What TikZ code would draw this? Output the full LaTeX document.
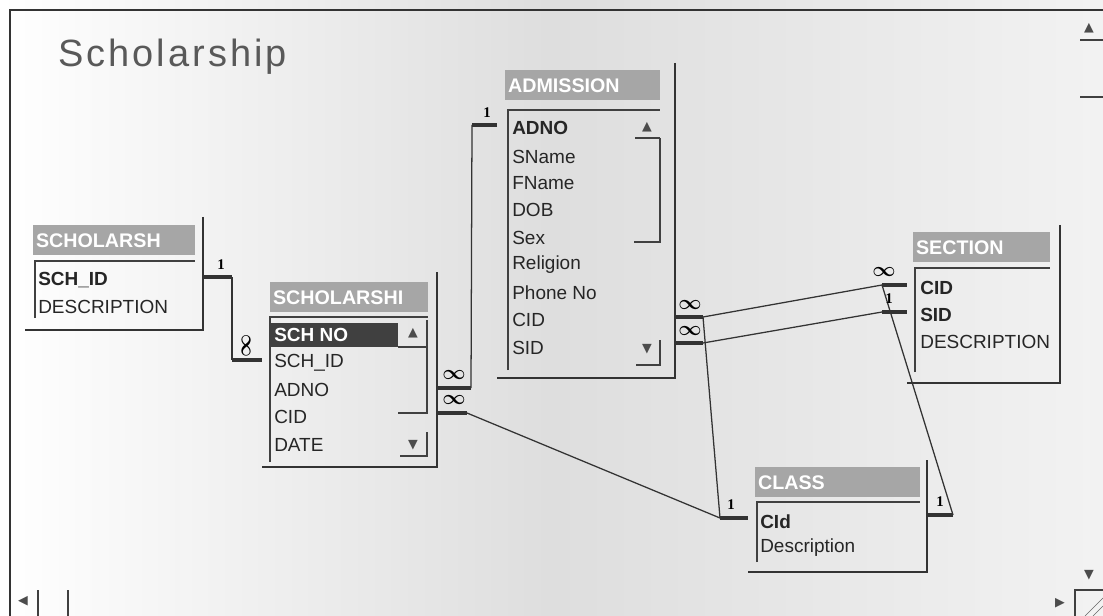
\documentclass[tikz,border=0pt]{standalone}
\usepackage{fontspec}
\setmainfont{Liberation Sans}
\newfontfamily\symfont{DejaVu Sans}
\newfontfamily\cardfont{Liberation Serif}
\newfontfamily\titlefont[LetterSpace=8]{Liberation Sans}
\usetikzlibrary{positioning}

\begin{document}
\begin{tikzpicture}[
  x=0.025cm, y=-0.025cm,
  font=\fontsize{13.5}{16}\selectfont,
  win/.style={inner sep=0pt, outer sep=0pt, anchor=north west},
  frame/.style={draw=black!80, line width=1.1pt},
  hdr/.style={fill=black!35, text=white, anchor=north west, align=left,
    inner xsep=2pt, inner ysep=0pt, minimum height=0.75cm,
    font=\fontsize{14}{16}\selectfont\bfseries},
  sunk/.style={draw=black!75, line width=0.9pt},
  field/.style={anchor=west, inner sep=0pt, text=black!85},
  pkey/.style={field, font=\fontsize{13.5}{16}\selectfont\bfseries},
  bar/.style={draw=black!80, line width=2.4pt},
  rel/.style={draw=black!80, line width=0.9pt},
  one/.style={font=\cardfont\fontsize{10.5}{11}\selectfont\bfseries, inner sep=0pt},
  many/.style={font=\fontsize{15}{15}\selectfont\boldmath, inner sep=0pt},
  arrowglyph/.style={font=\symfont\fontsize{9}{9}\selectfont, text=black!70, inner sep=0pt}]
\useasboundingbox (0,0) rectangle (1103,616);
\shade[left color=white, right color=black!5, middle color=black!13] (0,0) rectangle (1103,616);
\draw[frame] (10,616) -- (10,10) -- (1103,10);
\node[anchor=base west, inner sep=0pt, text=black!65,
  font=\titlefont\fontsize{27}{30}\selectfont] (title) at (58,67) {Scholarship};

% lookup table
\node[win, minimum width=4.45cm, minimum height=2.825cm] (lkp) at (25,217) {};
\draw[frame] (lkp.north east) |- (lkp.south west);
\node[hdr, text width=3.91cm] (lkp-hd) at (33,225) {SCHOLARSH};
\draw[sunk] (35,318) |- (195,261);
\node[pkey] (lkp-schid) at (38,280) {SCH\_ID};
\node[field] (lkp-desc) at (38,307) {DESCRIPTION};

% scholarship table
\node[win, minimum width=4.375cm, minimum height=4.875cm] (sch) at (262,272) {};
\draw[frame] (sch.north east) |- (sch.south west);
\node[hdr, text width=3.81cm] (sch-hd) at (270,282) {SCHOLARSHI};
\draw[sunk] (270,462) |- (428,317);
\fill[black!75] (271,323) rectangle (398,347);
\node[pkey, text=white] (sch-no) at (274,335) {SCH NO};
\node[field] (sch-id) at (274,363) {SCH\_ID};
\node[field] (sch-adno) at (274,390) {ADNO};
\node[field] (sch-cid) at (274,417) {CID};
\node[field] (sch-date) at (274,445) {DATE};
\draw[sunk] (398,347) -| (427,320);
\node[arrowglyph] (sch-up) at (413,333) {▲};
\draw[sunk] (398,413) -| (427,347);
\node[arrowglyph] (sch-dn) at (413,445) {▼};
\draw[sunk] (400,456) -| (427,432);

% admission table
\node[win, minimum width=4.45cm, minimum height=7.875cm] (adm) at (497,63) {};
\draw[frame] (adm.north east) |- (adm.south west);
\node[hdr, text width=3.735cm] (adm-hd) at (505,70) {ADMISSION};
\draw[sunk] (508,370) |- (660,110);
\node[pkey] (adm-adno) at (512,128) {ADNO};
\node[field] (adm-sname) at (512,157) {SName};
\node[field] (adm-fname) at (512,183) {FName};
\node[field] (adm-dob) at (512,210) {DOB};
\node[field] (adm-sex) at (512,238) {Sex};
\node[field] (adm-rel) at (512,265) {Religion};
\node[field] (adm-phone) at (512,293) {Phone No};
\node[field] (adm-cid) at (512,320) {CID};
\node[field] (adm-sid) at (512,348) {SID};
\node[arrowglyph] (adm-up) at (647,127) {▲};
\draw[sunk] (635,138) -- (660,138);
\draw[sunk] (634,242) -| (660,138);
\node[arrowglyph] (adm-dn) at (647,349) {▼};
\draw[sunk] (636,365) -| (660,340);

% section table
\node[win, minimum width=3.825cm, minimum height=3.95cm] (sec) at (907,225) {};
\draw[frame] (sec.north east) |- (sec.south west);
\node[hdr, text width=3.285cm] (sec-hd) at (913,232) {SECTION};
\draw[sunk] (915,372) |- (1050,268);
\node[pkey] (sec-cid) at (920,288) {CID};
\node[pkey] (sec-sid) at (920,315) {SID};
\node[field] (sec-desc) at (920,342) {DESCRIPTION};

% class table
\node[win, minimum width=4.475cm, minimum height=2.8cm] (cls) at (748,460) {};
\draw[frame] (cls.north east) |- (cls.south west);
\node[hdr, text width=3.985cm] (cls-hd) at (755,467) {CLASS};
\draw[sunk] (757,562) |- (920,502);
\node[pkey] (cls-cid) at (760,522) {CId};
\node[field] (cls-desc) at (760,548) {Description};

% SCH_ID
\coordinate (j1) at (232,277);
\coordinate (j2) at (232,360);
\draw[rel] (j1) -- (j2);
\draw[bar] (lkp.east |- j1) -- (j1);
\draw[bar] (j2) -- (sch.west |- j2);
\node[one] (m1) at (221,265) {1};
\node[many, rotate=90] (m2) at (246,346) {$\infty$};

% ADNO
\coordinate (j3) at (472,125);
\coordinate (j4) at (471,388);
\draw[rel] (j3) -- (j4);
\draw[bar] (adm.west |- j3) -- (j3);
\draw[bar] (j4) -- (sch.east |- j4);
\node[one] (m3) at (487,113) {1};
\node[many] (m4) at (454,375) {$\infty$};

% CID
\coordinate (j5) at (467,413);
\coordinate (j6) at (720,518);
\draw[rel] (j5) -- (j6);
\draw[bar] (sch.east |- j5) -- (j5);
\draw[bar] (j6) -- (cls.west |- j6);
\node[many] (m5) at (454,400) {$\infty$};
\node[one] (m6) at (731,505) {1};

\coordinate (j7) at (703,317);
\draw[rel] (j7) -- (j6);
\draw[bar] (adm.east |- j7) -- (j7);
\node[many] (m7) at (690,305) {$\infty$};

\coordinate (j8) at (882,285);
\draw[rel] (j7) -- (j8);
\draw[bar] (j8) -- (sec.west |- j8);
\node[many] (m8) at (884,272) {$\infty$};

\coordinate (j11) at (953,515);
\draw[rel] (j8) -- (j11);
\draw[bar] (j11) -- (cls.east |- j11);
\node[one] (m11) at (940,502) {1};

% SID
\coordinate (j9) at (703,343);
\coordinate (j10) at (882,312);
\draw[rel] (j9) -- (j10);
\draw[bar] (adm.east |- j9) -- (j9);
\draw[bar] (j10) -- (sec.west |- j10);
\node[many] (m9) at (690,331) {$\infty$};
\node[one] (m10) at (889,299) {1};

% window scroll bars
\node[arrowglyph] (vs-up) at (1089,28) {▲};
\draw[sunk] (1080,40) -- (1103,40);
\draw[sunk] (1080,97) -- (1103,97);
\node[arrowglyph] (vs-dn) at (1089,575) {▼};
\draw[sunk] (1075,616) |- (1103,590);
\node[arrowglyph] (hs-rt) at (1060,603) {▶};
\node[arrowglyph] (hs-lt) at (23,601) {◀};
\draw[sunk] (38,590) -- (38,616);
\draw[sunk] (68,590) -- (68,616);
\draw[black!60] (1085,616) -- (1103,598) (1093,616) -- (1103,606);
\end{tikzpicture}
\end{document}
